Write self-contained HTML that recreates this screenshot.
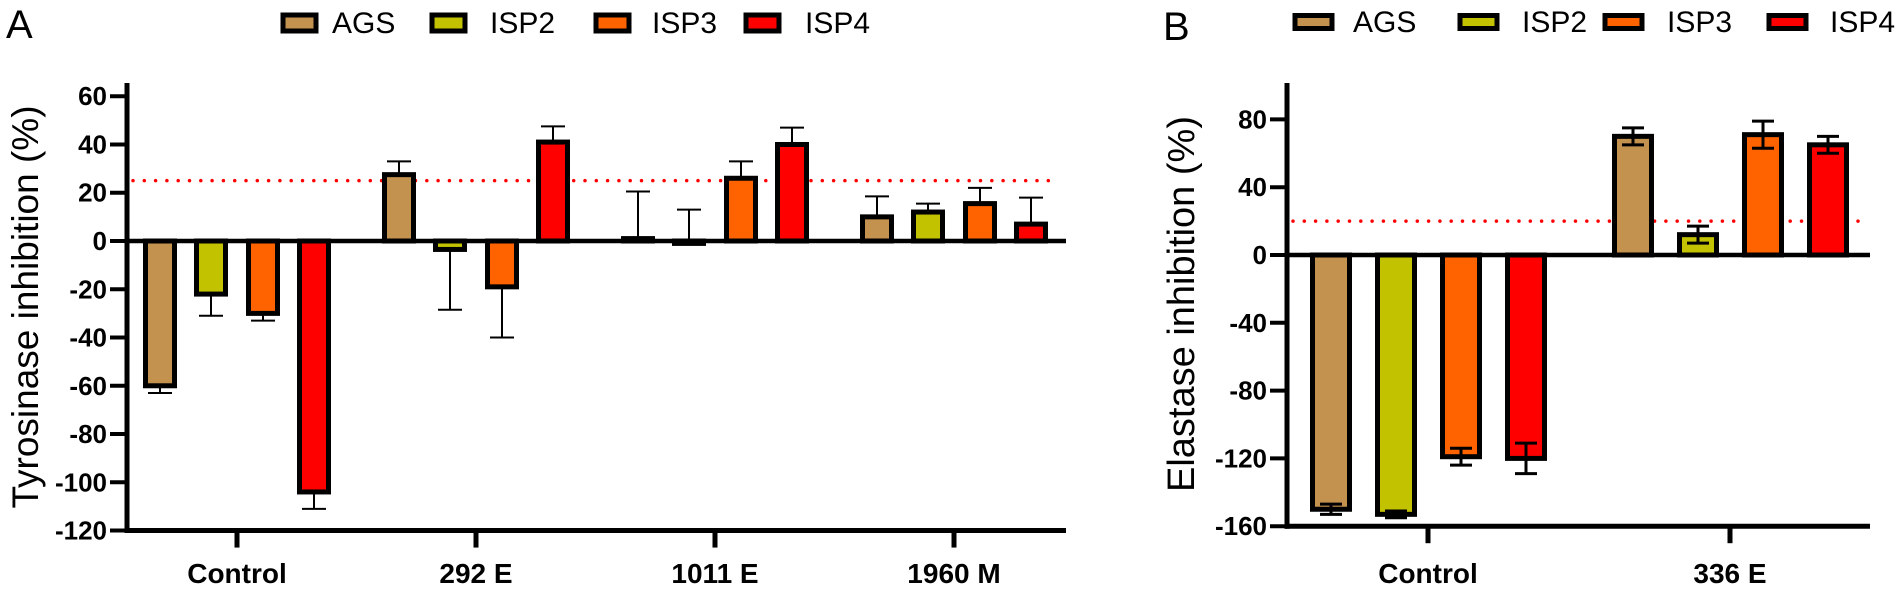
<!DOCTYPE html>
<html><head><meta charset="utf-8">
<style>
html,body{margin:0;padding:0;background:#fff;}
svg{display:block;font-family:"Liberation Sans",Arial,sans-serif;}
</style></head>
<body>
<svg id="fig" width="1902" height="590" viewBox="0 0 1902 590">
  <text x="6" y="38" font-size="40">A</text>
  <text x="1163" y="40" font-size="40">B</text>
  <g id="legA"></g>
  <g id="legB"></g>
  <g id="chartA"></g>
  <g id="chartB"></g>
</svg>
<script>
const series = ["AGS","ISP2","ISP3","ISP4"];
const colors = ["#C4924F","#C2C200","#FF6300","#FF0000"];

// Panel A: Tyrosinase
const catsA = ["Control","292 E","1011 E","1960 M"];
const agsA  = [-60, 27.5, 1, 10];
const isp2A = [-22, -3.5, -1, 12];
const isp3A = [-30, -19, 26, 15.5];
const isp4A = [-104, 41, 40, 7];
const errEndAGS_A  = [-63, 33, 20.5, 18.5];
const errEndISP2_A = [-31, -28.5, 13, 15.5];
const errEndISP3_A = [-33, -40, 33, 22];
const errEndISP4_A = [-111, 47.5, 47, 18];
const ticksA = [60,40,20,0,-20,-40,-60,-80,-100,-120];
const thresholdA = 25;

// Panel B: Elastase
const catsB = ["Control","336 E"];
const agsB  = [-150, 70];
const isp2B = [-153, 12];
const isp3B = [-119, 71];
const isp4B = [-120, 65];
const sdAGS_B  = [3, 5];
const sdISP2_B = [2, 5];
const sdISP3_B = [5, 8];
const sdISP4_B = [9, 5];
const ticksB = [80,40,0,-40,-80,-120,-160];
const thresholdB = 20;

const NS = "http://www.w3.org/2000/svg";
function mk(tag, attrs, parent){
  const e = document.createElementNS(NS, tag);
  for (const k in attrs) e.setAttribute(k, attrs[k]);
  parent.appendChild(e);
  return e;
}

function legend(g, xs, y, sw, sh){
  series.forEach((s,i)=>{
    const r = mk("rect",{x:xs[i][0], y:y-sh/2, width:sw, height:sh, fill:colors[i], stroke:"#000","stroke-width":5}, g);
    
    
    const t = mk("text",{x:xs[i][1], y:y+10, "font-size":30}, g);
    t.textContent = s;
    
    
  });
}
legend(document.getElementById("legA"), [[283,332],[432,490],[596,652],[746,805]], 23, 33, 16);
legend(document.getElementById("legB"), [[1295,1353],[1460,1522],[1605,1667],[1769,1830]], 22, 37, 13);

function drawChart(g, cfg){
  const y = v => cfg.y0 - v*cfg.k;
  const xc = i => cfg.c0 + i*cfg.step;
  const vals = [cfg.v0,cfg.v1,cfg.v2,cfg.v3];
  const th = mk("line",{x1:cfg.ax+6, x2:cfg.xEnd-8, y1:y(cfg.thr), y2:y(cfg.thr), stroke:"#FF0000","stroke-width":3.5,"stroke-dasharray":"0 11.3","stroke-linecap":"round"}, g);
  
  
  cfg.cats.forEach((c,ci)=>{
    vals.forEach((arr,si)=>{
      const v = arr[ci];
      const cx = xc(ci) + cfg.offs[si];
      const top = Math.min(y(0), y(v)), h = Math.abs(y(v)-y(0));
      if (cfg.errEnd){
        const e = cfg.errEnd[si][ci];
        const eb = mk("line",{x1:cx,x2:cx,y1:y(v),y2:y(e),stroke:"#000","stroke-width":2}, g);
        
        
        const cap = mk("line",{x1:cx-12,x2:cx+12,y1:y(e),y2:y(e),stroke:"#000","stroke-width":2}, g);
        
        
      }
      const r = mk("rect",{x:cx-cfg.bw/2, y:top, width:cfg.bw, height:Math.max(h,1), fill:colors[si], stroke:"#000","stroke-width":cfg.sw}, g);
      
      
      if (cfg.sd){
        const s = cfg.sd[si][ci];
        const hi = v + s, lo = v - s;
        const eb = mk("line",{x1:cx,x2:cx,y1:y(hi),y2:y(lo),stroke:"#000","stroke-width":3}, g);
        
        
        [hi,lo].forEach(val=>{
          const cap = mk("line",{x1:cx-11,x2:cx+11,y1:y(val),y2:y(val),stroke:"#000","stroke-width":3}, g);
          
          
        });
      }
    });
  });
  const zl = mk("line",{x1:cfg.ax, x2:cfg.xEnd, y1:y(0), y2:y(0), stroke:"#000","stroke-width":4.5}, g);
  
  
  const yb = y(cfg.ticks[cfg.ticks.length-1]);
  const ya = mk("line",{x1:cfg.ax, x2:cfg.ax, y1:cfg.axTop, y2:yb+2.5, stroke:"#000","stroke-width":5}, g);
  
  
  const xa = mk("line",{x1:cfg.ax-2.5, x2:cfg.xEnd, y1:yb, y2:yb, stroke:"#000","stroke-width":5}, g);
  
  
  cfg.ticks.forEach(t=>{
    const tk = mk("line",{x1:cfg.ax-17, x2:cfg.ax, y1:y(t), y2:y(t), stroke:"#000","stroke-width":4}, g);
    
    
    const tl = mk("text",{x:cfg.ax-20, y:y(t)+9, "font-size":26,"font-weight":"bold","text-anchor":"end"}, g);
    tl.textContent = t;
    
    
  });
  cfg.cats.forEach((c,ci)=>{
    const tk = mk("line",{x1:xc(ci), x2:xc(ci), y1:yb, y2:yb+17, stroke:"#000","stroke-width":5}, g);
    
    
    const tl = mk("text",{x:xc(ci), y:583, "font-size":28,"font-weight":"bold","text-anchor":"middle"}, g);
    tl.textContent = c;
    
    
  });
  const tt = mk("text",{x:0,y:0,"font-size":cfg.titleSize,"text-anchor":"middle",transform:`translate(${cfg.titleX},${cfg.titleY}) rotate(-90)`}, g);
  tt.textContent = cfg.title;
  
  
}

drawChart(document.getElementById("chartA"), {
  cats:catsA, v0:agsA, v1:isp2A, v2:isp3A, v3:isp4A,
  errEnd:[errEndAGS_A, errEndISP2_A, errEndISP3_A, errEndISP4_A],
  ticks:ticksA, thr:thresholdA,
  y0:241, k:2.413, ax:127, axTop:83, xEnd:1066, c0:237, step:239,
  offs:[-77,-26,26,77], bw:29, sw:5,
  title:"Tyrosinase inhibition (%)", titleX:38, titleY:307, titleSize:37
});
drawChart(document.getElementById("chartB"), {
  cats:catsB, v0:agsB, v1:isp2B, v2:isp3B, v3:isp4B,
  sd:[sdAGS_B, sdISP2_B, sdISP3_B, sdISP4_B],
  ticks:ticksB, thr:thresholdB,
  y0:255, k:1.695, ax:1287, axTop:83, xEnd:1870, c0:1428, step:302,
  offs:[-97,-32,33,98], bw:37, sw:5,
  title:"Elastase inhibition (%)", titleX:1194, titleY:304, titleSize:38
});
</script>
</body></html>
